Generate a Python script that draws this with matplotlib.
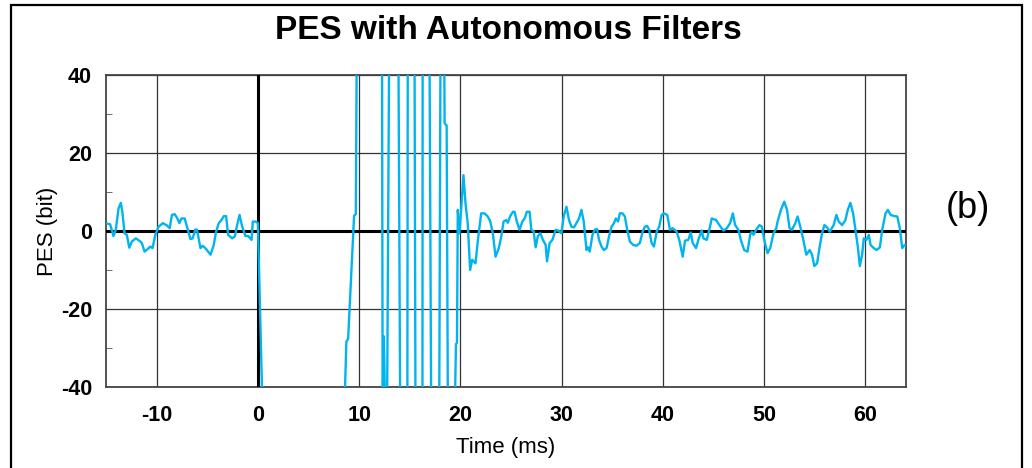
import matplotlib.pyplot as plt
from matplotlib.patches import Rectangle
from matplotlib.ticker import MultipleLocator

plt.rcParams['font.family'] = ['Liberation Sans', 'DejaVu Sans']
plt.rcParams['axes.unicode_minus'] = False

# PES trace (ms, bit); +/-45 marks samples that run off the +/-40 scale
time_ms = [
    -15.1, -14.59, -14.26, -14.03, -13.76, -13.53, -13.37, -13.17, -12.94, -12.70,
    -12.44, -12.05, -11.61, -11.46, -11.19, -10.86, -10.62, -10.40, -10.13, -9.80,
    -9.38, -8.98, -8.71, -8.49, -8.22, -7.99, -7.75, -7.55, -7.23, -7.00,
    -6.66, -6.44, -6.17, -6.01, -5.67, -5.45, -5.12, -4.68, -4.36, -4.13,
    -3.86, -3.59, -3.37, -3.14, -2.94, -2.54, -2.28, -2.05, -1.81, -1.55,
    -1.22, -0.96, -0.62, -0.50, -0.23, 0.0, 0.45,
    8.55, 8.74, 8.91, 9.50, 9.67, 9.76,
    12.26, 12.32, 12.44, 12.56, 12.76, 12.96, 13.88, 14.05, 14.76, 14.80,
    15.47, 15.56, 16.25, 16.27, 16.95, 17.11, 17.91, 18.03,
    18.40, 18.44, 18.64, 18.76, 19.45, 19.56, 19.66,
    19.74, 19.90, 20.07, 20.30, 20.50, 20.72, 20.96, 21.16, 21.49, 21.71,
    22.05, 22.38, 22.70, 22.94, 23.20, 23.47, 23.79, 24.03, 24.26, 24.52,
    24.68, 24.92, 25.18, 25.35, 25.57, 25.84, 26.11, 26.34, 26.56, 26.83,
    27.00, 27.23, 27.43, 27.65, 27.89, 28.15, 28.42, 28.55, 28.81, 29.08,
    29.41, 29.64, 29.97, 30.20, 30.47, 30.72, 30.96, 31.22, 31.46, 31.71,
    31.95, 32.18, 32.45, 32.60, 32.77, 33.04, 33.27, 33.49, 33.69, 33.93,
    34.16, 34.43, 34.68, 34.92, 35.15, 35.35, 35.57, 35.74, 36.01, 36.24,
    36.47, 36.73, 37.06, 37.40, 37.72, 37.99, 38.22, 38.44, 38.64, 38.88,
    39.11, 39.38, 39.63, 39.87, 40.10, 40.43, 40.69, 40.96, 41.36, 41.61,
    41.95, 42.18, 42.50, 42.74, 42.94, 43.27, 43.49, 43.83, 43.99, 44.33,
    44.58, 44.82, 45.25, 45.57, 45.97, 46.31, 46.63, 46.90, 47.13, 47.45,
    47.69, 48.02, 48.35, 48.61, 48.78, 48.94, 49.21, 49.53, 49.77, 50.00,
    50.33, 50.59, 50.92, 51.19, 51.32, 51.65, 51.98, 52.25, 52.50, 52.74,
    53.07, 53.30, 53.56, 53.83, 54.16, 54.49, 54.72, 54.95, 55.22, 55.48,
    55.71, 55.94, 56.21, 56.47, 56.86, 57.13, 57.36, 57.69, 58.02, 58.25,
    58.51, 58.78, 59.01, 59.24, 59.44, 59.67, 59.83, 60.10, 60.33, 60.50,
    60.82, 61.09, 61.42, 61.65, 61.98, 62.21, 62.48, 62.87, 63.14, 63.39,
    63.63, 63.86, 64.06,
]
pes_bit = [
    2.0, 1.7, -1.3, 0.3, 5.8, 7.2, 4.6, -0.6, -1.0, -4.3,
    -2.7, -1.9, -2.7, -3.1, -5.3, -4.6, -4.0, -4.4, -1.0, 1.1,
    2.0, 1.4, 0.7, 4.1, 4.3, 3.4, 2.0, 3.2, 3.2, 1.1,
    -2.1, -1.9, 0.4, 0.3, -4.4, -3.8, -4.6, -6.1, -3.6, -0.2,
    2.0, 2.8, 3.8, 3.8, -1.0, -1.9, -1.4, 1.5, 4.1, 1.1,
    -1.3, -1.3, -2.3, 2.4, 2.4, 2.0, -45,
    -45, -28.3, -27.7, 3.9, 4.3, 45,
    45, -45, -27.0, -45, -45, 45, 45, -45, -45, 45,
    45, -45, -45, 45, 45, -45, -45, 45,
    45, 27.6, 27.0, -45, -45, -29.0, -28.7,
    5.4, -0.6, 5.4, 14.3, 7.1, 2.0, -10.0, -7.4, -8.3, -2.7,
    4.5, 4.5, 3.7, 2.5, -0.6, -6.6, -4.4, -1.5, 2.4, 2.8,
    2.1, 3.8, 4.9, 4.9, 2.4, 0.3, 2.4, 3.2, 4.9, 4.9,
    0.3, -0.1, -4.2, -1.3, -0.6, -2.3, -3.6, -7.8, -3.1, -2.3,
    0.3, 0.1, -0.6, 3.7, 6.2, 2.8, 1.1, 0.9, 2.0, 3.2,
    5.4, 2.4, -4.9, -4.2, -5.3, -1.0, 0.3, 0.5, -2.3, -4.0,
    -4.9, -4.4, -1.4, 1.1, 1.9, 3.2, 2.4, 4.5, 4.5, 3.7,
    0.3, -2.7, -3.6, -3.8, -3.1, -0.2, 1.1, 1.3, 0.3, -3.1,
    -4.0, -0.2, 1.1, 4.1, 4.5, 4.1, 0.3, 0.7, -0.2, -2.3,
    -6.6, -2.5, -2.3, -0.4, -3.1, -4.4, -2.3, 0.1, -1.9, -2.3,
    0.3, 3.2, 2.8, 1.5, 0.1, 0.7, 2.0, 4.5, 1.5, 0.3,
    -2.3, -4.9, -5.3, -1.0, -0.2, -1.0, 0.3, 1.5, 1.1, -2.3,
    -5.7, -4.4, -0.6, 0.7, 2.4, 5.4, 7.5, 5.4, 0.7, 0.3,
    2.0, 3.7, 1.1, -1.9, -6.1, -4.9, -6.1, -9.0, -8.3, -4.0,
    -0.6, 1.5, 0.9, -0.2, 1.5, 4.1, 2.4, 1.5, 2.8, 5.4,
    7.2, 4.5, 0.3, -4.0, -9.0, -6.1, -1.9, -2.3, -1.0, -3.6,
    -4.4, -4.9, -4.2, 0.3, 4.5, 5.4, 4.1, 3.8, 3.7, 0.7,
    -4.4, -3.6, -4.0,
]

x_ticks = [-10, 0, 10, 20, 30, 40, 50, 60]
y_ticks = [-40, -20, 0, 20, 40]

fig = plt.figure(figsize=(10.32, 4.68), dpi=100)
ax = fig.add_axes([0.1027, 0.1731, 0.7752, 0.6669])

ax.plot(time_ms, pes_bit, color='#00B4F0', lw=1.7, zorder=4)

ax.set_xlim(-15, 64)
ax.set_ylim(-40, 40)
ax.set_xticks(x_ticks)
ax.set_yticks(y_ticks)
ax.yaxis.set_minor_locator(MultipleLocator(10))
ax.grid(True, which='major', color='#333333', lw=0.9)
ax.axhline(0, color='black', lw=2.2, zorder=3)
ax.axvline(0, color='black', lw=2.2, zorder=3)

ax.tick_params(which='major', length=0, labelsize=15.5, pad=10)
ax.tick_params(axis='x', which='major', pad=13)
ax.tick_params(axis='y', which='minor', direction='in', length=4, color='#555555')
for lab in ax.get_xticklabels() + ax.get_yticklabels():
    lab.set_fontweight('bold')
for s in ax.spines.values():
    s.set_color('#444444')
    s.set_linewidth(1.3)

ax.set_xlabel('Time (ms)', fontsize=16, labelpad=8)
ax.set_ylabel('PES (bit)', fontsize=16, labelpad=2)
fig.text(0.493, 0.935, 'PES with Autonomous Filters', ha='center', va='center',
         fontsize=24, fontweight='bold')
fig.text(0.938, 0.555, '(b)', ha='center', va='center', fontsize=26)

# frame around the whole figure
fig.patches.append(Rectangle((11 / 1032, -0.05), 1011 / 1032, 1 - 5 / 468 + 0.05,
                             transform=fig.transFigure, fill=False,
                             edgecolor='black', lw=1.6))

fig.savefig('out.png', dpi=100)
